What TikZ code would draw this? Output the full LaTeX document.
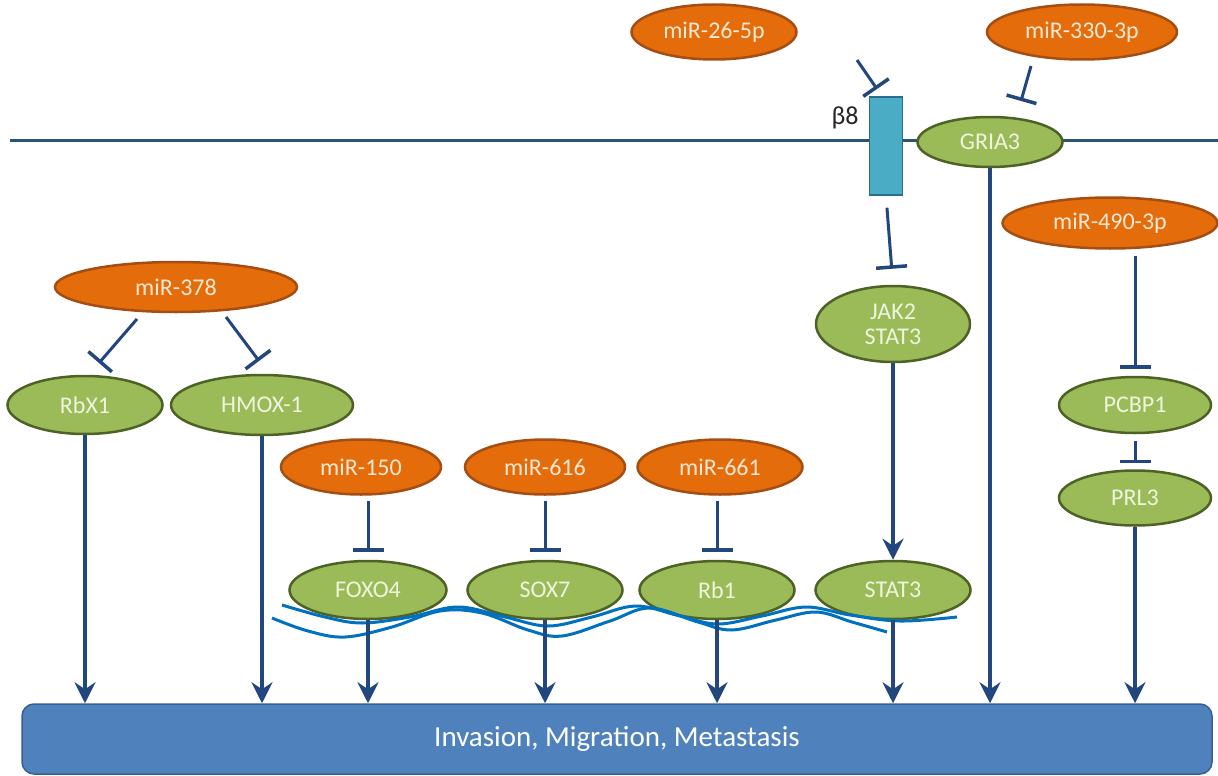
\documentclass[tikz,border=0pt]{standalone}
\usepackage{fontspec}
\setmainfont{Carlito}
\usetikzlibrary{shapes.geometric,arrows.meta}

\definecolor{mirfill}{RGB}{228,108,10}
\definecolor{mirline}{RGB}{165,78,20}
\definecolor{mirtext}{RGB}{252,232,212}
\definecolor{genefill}{RGB}{155,187,89}
\definecolor{geneline}{RGB}{78,98,38}
\definecolor{genetext}{RGB}{238,244,222}
\definecolor{linkcol}{RGB}{34,70,126}
\definecolor{membcol}{RGB}{40,84,118}
\definecolor{recfill}{RGB}{75,172,198}
\definecolor{recline}{RGB}{40,110,140}
\definecolor{boxfill}{RGB}{79,129,189}
\definecolor{boxline}{RGB}{56,96,146}
\definecolor{dnacol}{RGB}{0,112,192}

\tikzset{
  lbl/.style={font=\fontsize{24}{27}\selectfont},
  mir/.style={ellipse, lbl, fill=mirfill, draw=mirline, line width=2.5pt, text=mirtext, inner sep=0pt},
  gene/.style={ellipse, lbl, fill=genefill, draw=geneline, line width=2.5pt, text=genetext, inner sep=0pt, align=center},
  act/.style={draw=linkcol, line width=3.8pt, -{Stealth[length=21pt,width=21pt,inset=7pt]}},
  inh/.style={draw=linkcol, line width=3pt, -{Bar[width=31pt,line width=3.5pt]}},
  strand/.style={draw=dnacol, line width=3pt},
}

\begin{document}
\begin{tikzpicture}[x=1pt,y=-1pt]
\useasboundingbox (0,0) rectangle (1218,776);

% cell membrane
\coordinate (memL) at (10,140);
\coordinate (memR) at (1218,140);
\draw[membcol, line width=3pt] (memL) -- (memR);

% outcome bar
\node[draw=boxline, fill=boxfill, line width=1.5pt, rounded corners=12pt,
      minimum width=1190pt, minimum height=70pt, text=white,
      font=\fontsize{29}{34}\selectfont] (out) at (617,739) {Invasion, Migration, Metastasis};

% receptor
\node[draw=recline, fill=recfill, line width=1.5pt, minimum width=33pt, minimum height=98pt, inner sep=0pt] (b8) at (886,146) {};
\node[font=\fontsize{26}{30}\selectfont, text=black!85] (b8lbl) at (845,118) {β8};

% microRNAs
\node[mir, minimum width=165pt, minimum height=55pt] (m26)  at (714,32)  {miR-26-5p};
\node[mir, minimum width=190pt, minimum height=55pt] (m330) at (1082,32) {miR-330-3p};
\node[mir, minimum width=215pt, minimum height=51pt] (m490) at (1110,223) {miR-490-3p};
\node[mir, minimum width=242pt, minimum height=50pt] (m378) at (176,287) {miR-378};
\node[mir, minimum width=160pt, minimum height=55pt] (m150) at (361,467) {miR-150};
\node[mir, minimum width=160pt, minimum height=55pt] (m616) at (545,467) {miR-616};
\node[mir, minimum width=165pt, minimum height=55pt] (m661) at (720,467) {miR-661};

% targets
\node[gene, minimum width=145pt, minimum height=50pt] (gria) at (990,142) {GRIA3};
\node[gene, minimum width=154pt, minimum height=76pt] (jak)  at (893,324) {JAK2\\[-2pt]STAT3};
\node[gene, minimum width=152pt, minimum height=56pt] (pcbp) at (1135,405) {PCBP1};
\node[gene, minimum width=152pt, minimum height=55pt] (prl)  at (1135,498) {PRL3};
\node[gene, minimum width=155pt, minimum height=58pt] (rbx)  at (85,405)  {RbX1};
\node[gene, minimum width=182pt, minimum height=60pt] (hmox) at (262,405) {HMOX-1};
\node[gene, minimum width=157pt, minimum height=58pt] (foxo) at (368,590) {FOXO4};
\node[gene, minimum width=155pt, minimum height=58pt] (sox)  at (545,590) {SOX7};
\node[gene, minimum width=155pt, minimum height=58pt] (rb1)  at (717,590) {Rb1};
\node[gene, minimum width=155pt, minimum height=58pt] (stat) at (893,590) {STAT3};

% DNA strands
\draw[strand] plot[smooth, tension=0.6] coordinates {
  (282,605) (325,617) (362,623) (410,617) (458,607) (505,617) (548,626)
  (592,617) (636,606) (680,616) (718,624) (762,616) (806,607) (850,615)
  (900,621) (957,617)};
\draw[strand] plot[smooth, tension=0.6] coordinates {
  (272,618) (308,631) (345,637) (392,627) (440,611) (482,613) (528,630)
  (562,636) (610,621) (650,608) (698,622) (732,630) (776,620) (816,612)
  (852,622) (887,632)};

% inhibitions
\coordinate (i26a) at (857,60);   \coordinate (i26b) at (877,89);
\coordinate (i330a) at (1031,66); \coordinate (i330b) at (1021,101);
\coordinate (i378La) at (137,319); \coordinate (i378Lb) at (99,363);
\coordinate (i378Ra) at (226,317); \coordinate (i378Rb) at (259,361);
\draw[inh] (i26a) -- (i26b);
\draw[inh] (i330a) -- (i330b);
\draw[inh] (i378La) -- (i378Lb);
\draw[inh] (i378Ra) -- (i378Rb);
\draw[inh, shorten <=12pt, shorten >=16pt] (b8.south) -- (jak.north);
\draw[inh, shorten <=6pt, shorten >=7pt] (m490.south -| pcbp.north) -- (pcbp.north);
\draw[inh, shorten <=7pt, shorten >=6pt] (pcbp.south) -- (prl.north);
\draw[inh, shorten <=5pt, shorten >=8pt] (m150.south -| foxo.north) -- (foxo.north);
\draw[inh, shorten <=5pt, shorten >=8pt] (m616.south -| sox.north) -- (sox.north);
\draw[inh, shorten <=5pt, shorten >=8pt] (m661.south -| rb1.north) -- (rb1.north);

% activations
\draw[act] (jak.south) -- (stat.north);
\draw[act] (rbx.south)  -- (rbx.south |- out.north);
\draw[act] (hmox.south) -- (hmox.south |- out.north);
\draw[act] (foxo.south) -- (foxo.south |- out.north);
\draw[act] (sox.south)  -- (sox.south |- out.north);
\draw[act] (rb1.south)  -- (rb1.south |- out.north);
\draw[act] (stat.south) -- (stat.south |- out.north);
\draw[act] (gria.south) -- (gria.south |- out.north);
\draw[act] (prl.south)  -- (prl.south |- out.north);
\end{tikzpicture}
\end{document}
